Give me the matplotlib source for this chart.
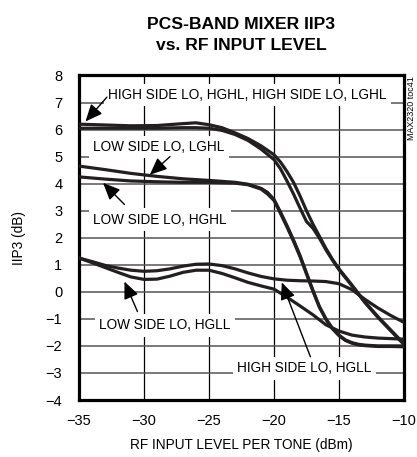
import numpy as np
import matplotlib
matplotlib.use('Agg')
import matplotlib.pyplot as plt

plt.rcParams['font.family'] = ['Liberation Sans', 'DejaVu Sans']

# data (x = RF input level per tone, dBm ; y = IIP3, dB)
x_hs = [-35, -33, -31, -29, -27, -26, -25, -24, -23, -22, -21, -20, -19.5, -19, -18.5,
        -18, -17.5, -17, -16.5, -16, -15.5, -15, -14, -13, -12, -11, -10]
hs_hghl = [6.2, 6.17, 6.14, 6.15, 6.22, 6.25, 6.18, 6.07, 5.88, 5.67, 5.4, 5.07, 4.8, 4.45, 4.05,
           3.55, 3.0, 2.5, 2.05, 1.6, 1.2, 0.85, 0.25, -0.38, -0.92, -1.42, -1.92]
hs_lghl = [6.05, 6.05, 6.05, 6.05, 6.07, 6.07, 6.05, 5.97, 5.82, 5.6, 5.28, 4.89, 4.55, 4.1, 3.62,
           3.1, 2.6, 2.35, 1.98, 1.55, 1.17, 0.82, 0.22, -0.4, -0.95, -1.45, -1.95]

x_ls = [-35, -33, -31, -29, -27, -25, -23, -22, -21, -20.5, -20, -19.5, -19, -18.5, -18,
        -17.5, -17, -16.5, -16, -15.5, -15, -14.5, -14, -13.5, -13, -12, -11, -10]
ls_lghl = [4.65, 4.52, 4.38, 4.27, 4.18, 4.12, 4.05, 3.98, 3.83, 3.68, 3.42, 2.95, 2.45, 1.92, 1.35,
           0.7, 0.05, -0.55, -1.0, -1.35, -1.6, -1.78, -1.88, -1.94, -1.97, -2.0, -2.0, -2.0]
ls_hghl = [4.25, 4.17, 4.1, 4.07, 4.05, 4.05, 4.02, 3.96, 3.8, 3.62, 3.38, 2.9, 2.4, 1.87, 1.3,
           0.66, 0.02, -0.58, -1.02, -1.37, -1.62, -1.8, -1.9, -1.96, -1.99, -2.02, -2.02, -2.03]

x_ll = [-35, -34, -33, -32, -31, -30, -29, -28, -27, -26, -25, -24, -23, -22, -21, -20,
        -19, -18, -17, -16, -15, -14, -13, -12, -11, -10]
ls_hgll = [1.25, 1.08, 0.9, 0.72, 0.55, 0.46, 0.47, 0.58, 0.72, 0.8, 0.8, 0.68, 0.52, 0.35, 0.22, 0.1,
           -0.2, -0.52, -0.85, -1.22, -1.45, -1.6, -1.67, -1.71, -1.73, -1.75]
hs_hgll = [1.25, 1.12, 0.98, 0.88, 0.8, 0.76, 0.78, 0.85, 0.95, 1.02, 1.03, 0.97, 0.85, 0.7, 0.57, 0.48,
           0.43, 0.41, 0.4, 0.38, 0.3, 0.08, -0.28, -0.6, -0.88, -1.13]

xticks = [-35, -30, -25, -20, -15, -10]
yticks = list(range(-4, 9))

# labels: text, left x, centre y ; arrows: tail, tip
labels = [('HIGH SIDE LO, HGHL, HIGH SIDE LO, LGHL', -32.75, 7.28),
          ('LOW SIDE LO, LGHL', -33.9, 5.36),
          ('LOW SIDE LO, HGHL', -33.9, 2.67),
          ('LOW SIDE LO, HGLL', -33.45, -1.24),
          ('HIGH SIDE LO, HGLL', -22.85, -2.83)]
arrows = [((-32.85, 7.2), (-34.5, 6.3)),
          ((-28.0, 5.0), (-29.55, 4.33)),
          ((-31.5, 3.23), (-33.15, 4.03)),
          ((-30.5, -0.73), (-31.5, 0.38)),
          ((-17.2, -2.4), (-19.4, 0.35))]

fig = plt.figure(figsize=(4.17, 4.57), dpi=100)
ax = fig.add_axes([0.1894, 0.1247, 0.9688 - 0.1894, 0.8348 - 0.1247])

for xs, ys in [(x_hs, hs_hghl), (x_hs, hs_lghl), (x_ls, ls_lghl), (x_ls, ls_hghl),
               (x_ll, ls_hgll), (x_ll, hs_hgll)]:
    ax.plot(xs, ys, color='#231f20', lw=2.3, solid_capstyle='round', zorder=4)

ax.set_xlim(-35, -10)
ax.set_ylim(-4, 8)
ax.set_xticks(xticks)
ax.set_yticks(yticks)
ax.grid(axis='x', color='black', lw=0.9, zorder=1)
ax.grid(axis='y', color='#555555', lw=1.1, zorder=1)
ax.set_axisbelow(True)
ax.tick_params(length=0, labelsize=10.5)
ax.tick_params(axis='y', pad=12)
ax.tick_params(axis='x', pad=10)
for s in ax.spines.values():
    s.set_linewidth(2.3)

for txt, lx, ly in labels:
    ax.text(lx, ly, txt, fontsize=9.8, ha='left', va='center', zorder=3,
            bbox=dict(facecolor='white', edgecolor='none', pad=3))
for tail, tip in arrows:
    ax.annotate('', xy=tip, xytext=tail, zorder=5,
                arrowprops=dict(arrowstyle='-|>,head_length=0.8,head_width=0.35',
                                color='black', lw=1.0, shrinkA=0, shrinkB=0,
                                mutation_scale=13))

ax.set_xlabel('RF INPUT LEVEL PER TONE (dBm)', fontsize=9.8, labelpad=7)
ax.set_ylabel('IIP3 (dB)', fontsize=9.8, labelpad=14)

fig.text(0.578, 0.962, 'PCS-BAND MIXER IIP3\nvs. RF INPUT LEVEL', ha='center', va='top',
         fontsize=12.6, fontweight='bold', linespacing=1.45)
fig.text(0.988, 0.764, 'MAX2320 toc41', rotation=90, fontsize=6.4, ha='center', va='center')

fig.savefig('out.png', dpi=100)
